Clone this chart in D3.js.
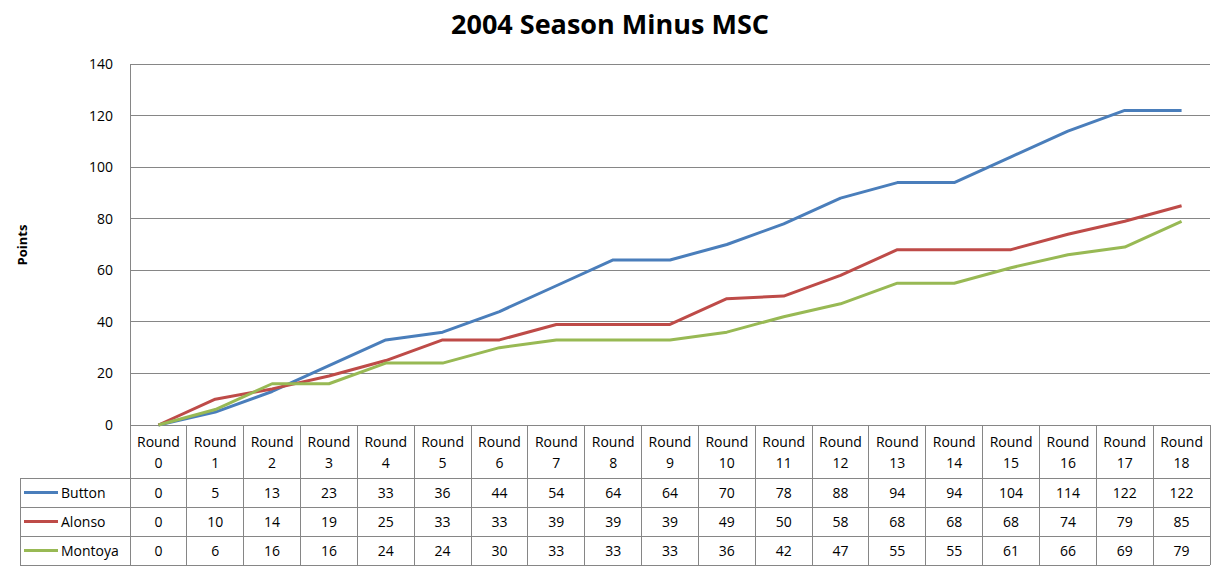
<!DOCTYPE html>
<html>
<head>
<meta charset="utf-8">
<script src="https://cdn.jsdelivr.net/npm/d3@7"></script>
<style>
  body { margin: 0; background: #fff; }
  svg { font-family: "Open Sans", "DejaVu Sans", sans-serif; }
</style>
</head>
<body>
<svg id="chart" width="1217" height="570"></svg>
<script>
let rounds = ['Round 0', 'Round 1', 'Round 2', 'Round 3', 'Round 4', 'Round 5', 'Round 6', 'Round 7', 'Round 8', 'Round 9',
  'Round 10', 'Round 11', 'Round 12', 'Round 13', 'Round 14', 'Round 15', 'Round 16', 'Round 17', 'Round 18'];
let button = [0, 5, 13, 23, 33, 36, 44, 54, 64, 64, 70, 78, 88, 94, 94, 104, 114, 122, 122];
let alonso = [0, 10, 14, 19, 25, 33, 33, 39, 39, 39, 49, 50, 58, 68, 68, 68, 74, 79, 85];
let montoya = [0, 6, 16, 16, 24, 24, 30, 33, 33, 33, 36, 42, 47, 55, 55, 61, 66, 69, 79];
let yTicks = [0, 20, 40, 60, 80, 100, 120, 140];

let series = [
  { name: 'Button', values: button, color: '#4a7ebb' },
  { name: 'Alonso', values: alonso, color: '#be4b48' },
  { name: 'Montoya', values: montoya, color: '#98b954' }
];

let svg = d3.select('#chart');
let plotLeft = 130, plotRight = 1210, plotTop = 64, plotBottom = 425;
let grey = '#868686';

let x = d3.scaleBand().domain(rounds).range([plotLeft, plotRight]);
let y = d3.scaleLinear().domain([0, 140]).range([plotBottom, plotTop]);

// title
svg.append('text')
  .attr('x', 610).attr('y', 34)
  .attr('text-anchor', 'middle')
  .attr('font-size', 27).attr('font-weight', 'bold')
  .text('2004 Season Minus MSC');

// gridlines
svg.append('g').selectAll('line')
  .data(yTicks)
  .enter().append('line')
  .attr('x1', plotLeft).attr('x2', plotRight)
  .attr('y1', d => y(d)).attr('y2', d => y(d))
  .attr('stroke', grey).attr('stroke-width', 1)
  .attr('shape-rendering', 'crispEdges');

// y axis
let yAxis = svg.append('g')
  .attr('transform', 'translate(' + plotLeft + ',0)')
  .call(d3.axisLeft(y).tickValues(yTicks).tickSize(0).tickPadding(17));
yAxis.select('.domain').attr('stroke', grey);
yAxis.selectAll('text').attr('font-size', 14).attr('fill', '#000')
  .attr('font-family', '"Open Sans", sans-serif');

svg.append('text')
  .attr('transform', 'translate(27,245) rotate(-90)')
  .attr('text-anchor', 'middle')
  .attr('font-size', 13).attr('font-weight', 'bold')
  .text('Points');

// lines
let line = d3.line()
  .x((d, i) => x(rounds[i]) + x.bandwidth() / 2)
  .y(d => y(d));

svg.append('g').selectAll('path')
  .data(series)
  .enter().append('path')
  .attr('d', s => line(s.values))
  .attr('fill', 'none')
  .attr('stroke', s => s.color)
  .attr('stroke-width', 3)
  .attr('stroke-linejoin', 'round');

// data table
let headerBottom = 478, rowH = 29, legendLeft = 20;
let table = svg.append('g');

// vertical lines for columns
let colEdges = rounds.map(r => x(r)).concat([plotRight]);
table.selectAll('.vcol')
  .data(colEdges)
  .enter().append('line')
  .attr('x1', d => d).attr('x2', d => d)
  .attr('y1', plotBottom).attr('y2', headerBottom + rowH * 3)
  .attr('stroke', grey).attr('shape-rendering', 'crispEdges');

// horizontal lines
let rowEdges = [headerBottom, headerBottom + rowH, headerBottom + rowH * 2, headerBottom + rowH * 3];
table.selectAll('.hrow')
  .data(rowEdges)
  .enter().append('line')
  .attr('x1', legendLeft).attr('x2', plotRight)
  .attr('y1', d => d).attr('y2', d => d)
  .attr('stroke', grey).attr('shape-rendering', 'crispEdges');

table.append('line')
  .attr('x1', legendLeft).attr('x2', legendLeft)
  .attr('y1', headerBottom).attr('y2', headerBottom + rowH * 3)
  .attr('stroke', grey).attr('shape-rendering', 'crispEdges');

// header labels
let header = table.selectAll('.hdr')
  .data(rounds)
  .enter().append('text')
  .attr('text-anchor', 'middle')
  .attr('font-size', 14);
header.append('tspan')
  .attr('x', r => x(r) + x.bandwidth() / 2).attr('y', 447)
  .text(r => r.split(' ')[0]);
header.append('tspan')
  .attr('x', r => x(r) + x.bandwidth() / 2).attr('y', 468)
  .text(r => r.split(' ')[1]);

// rows
series.forEach((s, si) => {
  let cy = headerBottom + rowH * si + rowH / 2;
  table.append('line')
    .attr('x1', 24).attr('x2', 58)
    .attr('y1', cy).attr('y2', cy)
    .attr('stroke', s.color).attr('stroke-width', 3);
  table.append('text')
    .attr('x', 61).attr('y', cy + 5)
    .attr('font-size', 14)
    .text(s.name);
  table.selectAll('.v' + si)
    .data(s.values)
    .enter().append('text')
    .attr('x', (d, i) => x(rounds[i]) + x.bandwidth() / 2)
    .attr('y', cy + 5)
    .attr('text-anchor', 'middle')
    .attr('font-size', 14)
    .text(d => d);
});
</script>
</body>
</html>
